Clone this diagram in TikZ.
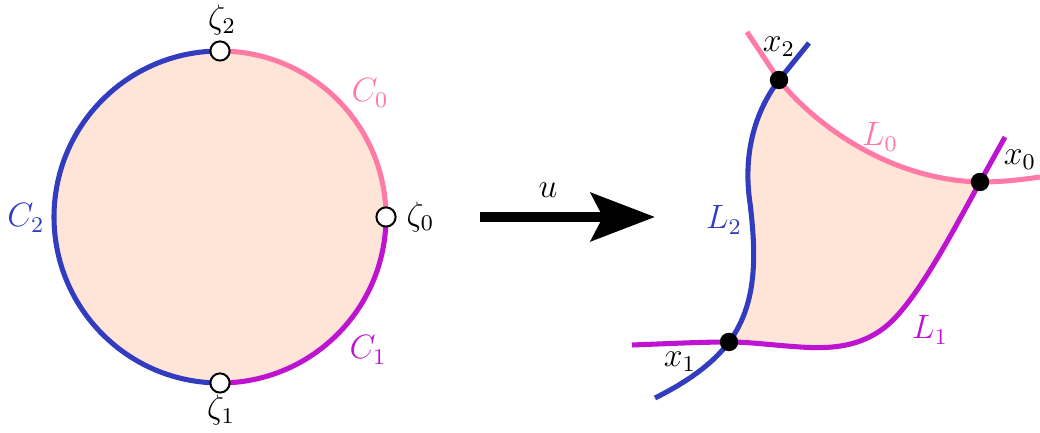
\documentclass[tikz,border=0pt]{standalone}
\usetikzlibrary{arrows.meta, positioning}
\definecolor{lpink}{RGB}{255,122,165}
\definecolor{lmag}{RGB}{190,20,210}
\definecolor{lblue}{RGB}{50,60,190}
\definecolor{lfill}{RGB}{255,228,216}

\begin{document}
\begin{tikzpicture}[x=0.0125cm, y=0.0125cm, font=\fontsize{11.5}{14}\selectfont,
  curve/.style={line width=1.8pt},
  hole/.style={circle, draw, fill=white, line width=0.7pt, inner sep=0pt, minimum size=2.4mm},
  dot/.style={circle, fill=black, inner sep=0pt, minimum size=2.3mm}]
  \useasboundingbox (0,0) rectangle (1040,433);
  % the disk and its boundary arcs
  \coordinate (o) at (220,216);
  \fill[lfill] (o) circle (166);
  \draw[curve, lpink] ([shift={(0:166)}]o) arc (0:90:166);
  \draw[curve, lmag] ([shift={(270:166)}]o) arc (270:360:166);
  \draw[curve, lblue] ([shift={(90:166)}]o) arc (90:270:166);
  \node[hole] (z0) at ([shift={(0:166)}]o) {};
  \node[hole] (z1) at ([shift={(270:166)}]o) {};
  \node[hole] (z2) at ([shift={(90:166)}]o) {};
  \node[right=0pt of z0] (z0lbl) {$\zeta_0$};
  \node at (221,23) (z1lbl) {$\zeta_1$};
  \node at (222,413) (z2lbl) {$\zeta_2$};
  \node[lpink] at (370,340) (c0lbl) {$C_0$};
  \node[lmag] at (368,83) (c1lbl) {$C_1$};
  \node[lblue] at (26,215) (c2lbl) {$C_2$};
  % the map
  \coordinate (ustart) at (480,216);
  \coordinate (uend) at (655,216);
  \draw[line width=3.5pt, -{Stealth[length=8mm, width=6mm, inset=1.5mm]}] (ustart) -- (uend);
  \node at (548,243) (ulbl) {$u$};
  % the image polygon
  \coordinate (x2) at (779,353);
  \coordinate (x0) at (980,251);
  \coordinate (x1) at (729,91);
  \fill[lfill] (x1) .. controls (758,130) and (756,180) .. (750,230)
    .. controls (744,270) and (750,315) .. (x2)
    .. controls (815,308) and (890,253) .. (x0)
    .. controls (950,196) and (920,140) .. (893,113)
    .. controls (865,85) and (830,84) .. (800,86)
    .. controls (770,88) and (750,91) .. cycle;
  \draw[curve, lblue] (809,390) -- (x2) .. controls (750,315) and (744,270) .. (750,230)
    .. controls (756,180) and (758,130) .. (x1) .. controls (712,68) and (685,50) .. (655,35);
  \draw[curve, lmag] (1005,296) -- (x0) .. controls (950,196) and (920,140) .. (893,113)
    .. controls (865,85) and (830,84) .. (800,86)
    .. controls (770,88) and (750,91) .. (x1) .. controls (700,91) and (660,89) .. (632,88);
  \draw[curve, lpink] (747,401) -- (x2) .. controls (815,308) and (890,253) .. (x0)
    .. controls (1000,251) and (1020,253) .. (1040,256);
  \node[dot] (d0) at (x0) {};
  \node[dot] (d1) at (x1) {};
  \node[dot] (d2) at (x2) {};
  \node at (1020,273) (x0lbl) {$x_0$};
  \node at (680,71) (x1lbl) {$x_1$};
  \node at (779,386) (x2lbl) {$x_2$};
  \node[lpink] at (880,296) (l0lbl) {$L_0$};
  \node[lmag] at (930,103) (l1lbl) {$L_1$};
  \node[lblue] at (724,213) (l2lbl) {$L_2$};
\end{tikzpicture}
\end{document}
